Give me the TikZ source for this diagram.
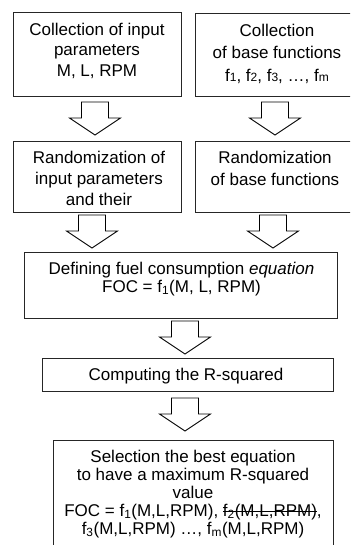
\documentclass[tikz,border=0pt]{standalone}
\usepackage{fontspec}
\setmainfont{Liberation Sans}

\tikzset{
  box/.style={draw=black!85, line width=0.8pt, inner sep=0pt},
  boxtext/.style={anchor=north, inner sep=0pt, align=center,
    font=\fontsize{17}{20.5}\selectfont},
  hollow/.style={draw=black, line width=0.9pt, line join=miter, fill=white}
}
\newcommand\lowdig[1]{{\fontsize{12}{12}\selectfont #1}}
\newsavebox\strikebox
\newcommand\strikeout[1]{\sbox\strikebox{#1}%
  \rlap{\usebox\strikebox}\rule[0.22em]{\wd\strikebox}{0.9pt}}
\newcommand\blockarrow[1]{%
  \draw[hollow] (#1) +(-13.5,0) -- +(13.5,0) -- +(13.5,16) -- +(25.5,16)
    -- +(0,33) -- +(-25.5,16) -- +(-13.5,16) -- cycle;}

\begin{document}
\begin{tikzpicture}[x=1pt, y=-1pt]
  \clip (0,0) rectangle (350,545);

  % Boxes
  \node[box, minimum width=168pt, minimum height=84pt] (inp) at (97,54) {};
  \node[box, minimum width=165pt, minimum height=83pt] (base) at (277.5,54.5) {};
  \node[box, minimum width=168pt, minimum height=71pt] (rinp) at (97,176.5) {};
  \node[box, minimum width=165pt, minimum height=71pt] (rbase) at (277.5,176.5) {};
  \node[box, minimum width=313pt, minimum height=66pt] (foc) at (180.5,285) {};
  \node[box, minimum width=291pt, minimum height=33pt] (rsq) at (187.5,374.5) {};
  \node[box, minimum width=280pt, minimum height=120pt] (best) at (193,500) {};

  % Texts, set at the top of each box
  \node[boxtext] (inp-t) at (97,22.5) {Collection of input\\parameters\\M, L, RPM};
  \node[boxtext, font=\fontsize{17}{22.5}\selectfont] (base-t) at (277,23.5)
    {Collection\\of base functions\\f\lowdig{1}, f\lowdig{2}, f\lowdig{3}, \dots, f\lowdig{m}};
  \node[boxtext, font=\fontsize{17}{21}\selectfont] (rinp-t) at (99,150.5)
    {Randomization of\\input parameters\\and their};
  \node[boxtext, font=\fontsize{17}{22}\selectfont] (rbase-t) at (275,150.5)
    {Randomization\\of base functions};
  \node[boxtext, font=\fontsize{17}{18}\selectfont] (foc-t) at (181.5,261.5)
    {Defining fuel consumption \textit{equation}\\FOC = f\textsubscript{1}(M, L, RPM)};
  \node[boxtext] (rsq-t) at (186,367.5) {Computing the R-squared};
  \node[boxtext, font=\fontsize{17}{18}\selectfont] (best-t) at (193,449.5)
    {Selection the best equation\\to have a maximum R-squared\\value\\
     FOC = f\textsubscript{1}(M,L,RPM), \strikeout{f\textsubscript{2}(M,L,RPM)},\\
     f\textsubscript{3}(M,L,RPM) \dots, f\textsubscript{m}(M,L,RPM)};

  % Block arrows
  \coordinate (a1) at (95,102);
  \coordinate (a2) at (275,102);
  \coordinate (a3) at (92,215);
  \coordinate (a4) at (273,215);
  \coordinate (a5) at (185,321);
  \coordinate (a6) at (185,398);
  \foreach \a in {a1,a2,a3,a4,a5,a6}
    {\blockarrow{\a}}
\end{tikzpicture}
\end{document}
